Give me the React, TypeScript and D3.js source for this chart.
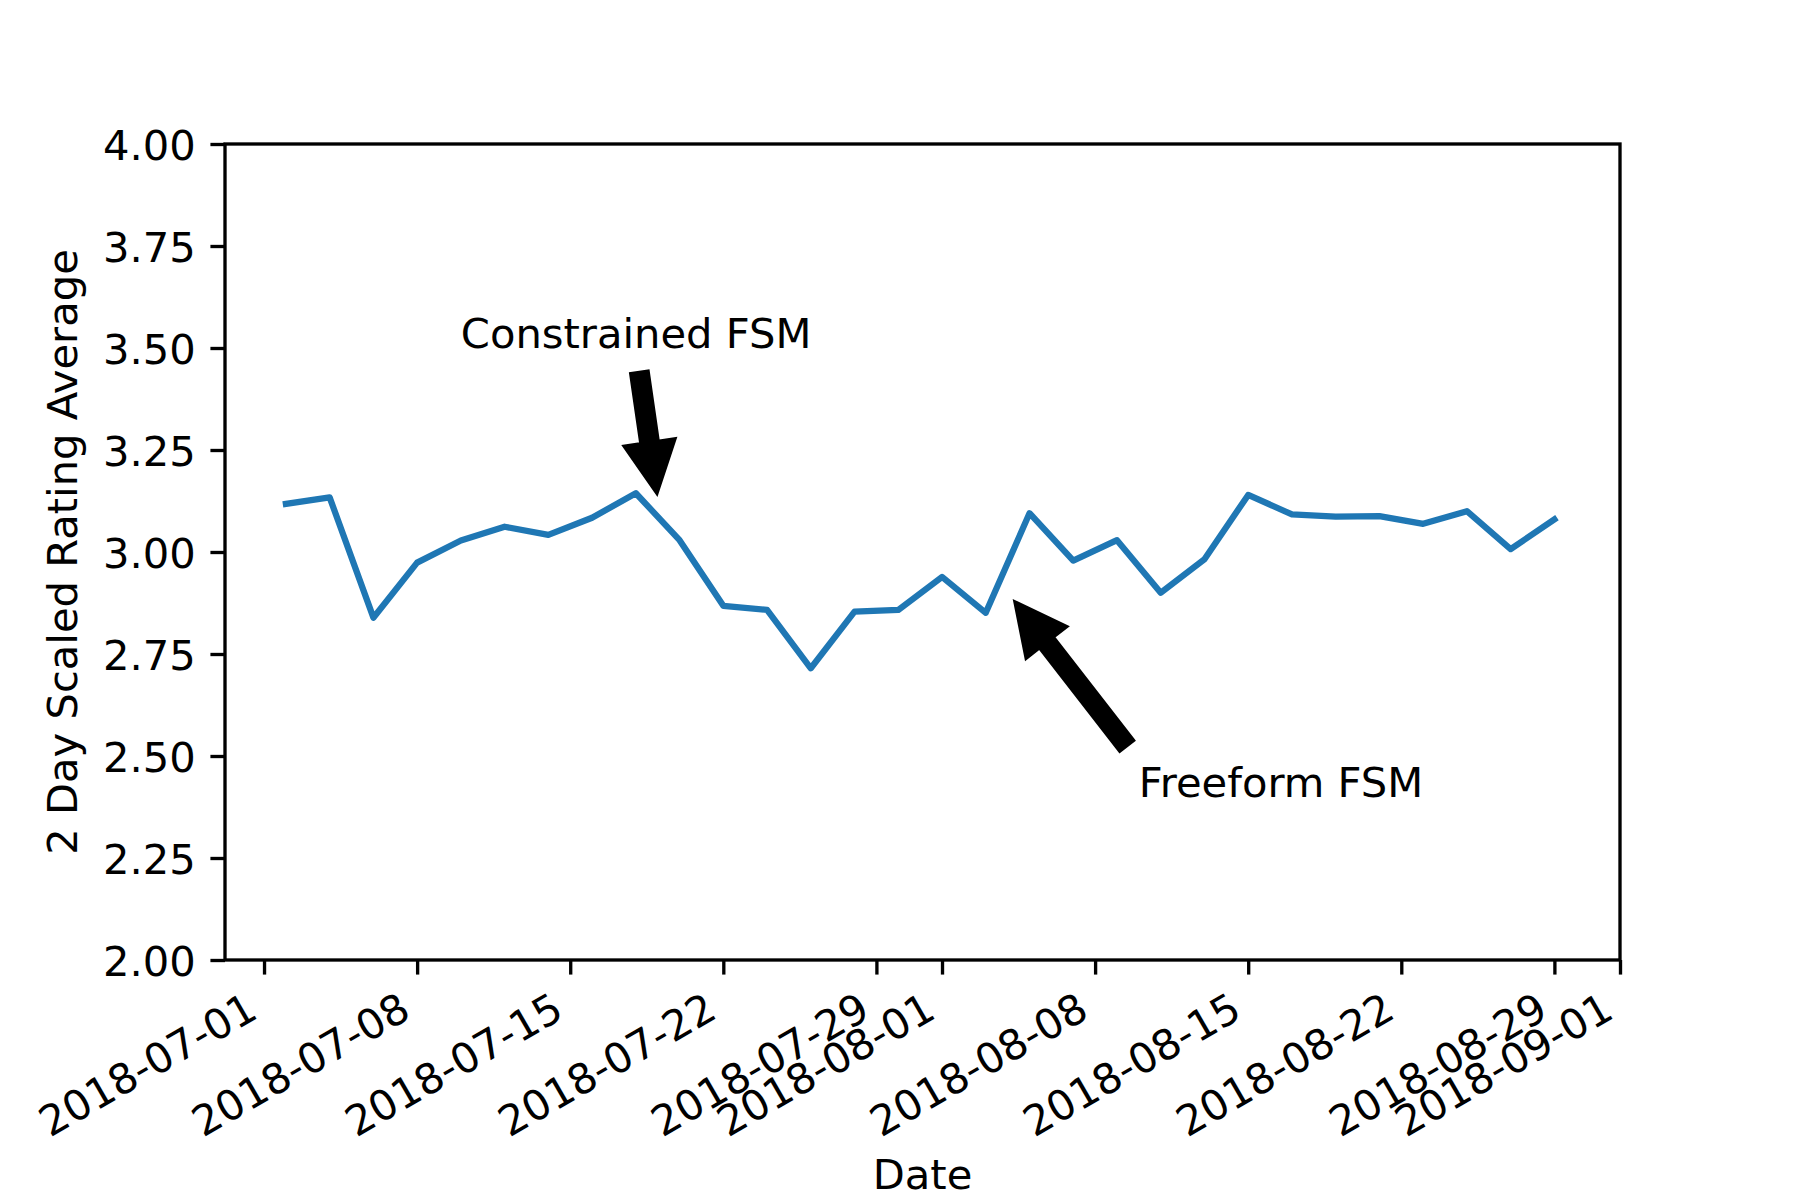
import React, { useEffect, useRef } from 'react'
import * as d3 from 'd3'

// 2-day averages, one point every second day
const dates = [
  '2018-07-02', '2018-07-04', '2018-07-06', '2018-07-08', '2018-07-10',
  '2018-07-12', '2018-07-14', '2018-07-16', '2018-07-18', '2018-07-20',
  '2018-07-22', '2018-07-24', '2018-07-26', '2018-07-28', '2018-07-30',
  '2018-08-01', '2018-08-03', '2018-08-05', '2018-08-07', '2018-08-09',
  '2018-08-11', '2018-08-13', '2018-08-15', '2018-08-17', '2018-08-19',
  '2018-08-21', '2018-08-23', '2018-08-25', '2018-08-27', '2018-08-29',
]
const ratings = [
  3.118, 3.134, 2.839, 2.974, 3.028, 3.062, 3.042, 3.084, 3.144, 3.029,
  2.868, 2.858, 2.715, 2.854, 2.858, 2.939, 2.851, 3.095, 2.979, 3.029,
  2.900, 2.982, 3.140, 3.092, 3.087, 3.088, 3.069, 3.100, 3.007, 3.080,
]

const xTickLabels = [
  '2018-07-01', '2018-07-08', '2018-07-15', '2018-07-22', '2018-07-29',
  '2018-08-01', '2018-08-08', '2018-08-15', '2018-08-22', '2018-08-29', '2018-09-01',
]
const yTicks = [2.0, 2.25, 2.5, 2.75, 3.0, 3.25, 3.5, 3.75, 4.0]

// annotations: text anchor, arrow tail and arrow tip (data coordinates)
const annotationLabels = ['Constrained FSM', 'Freeform FSM']
const annotationText = [['2018-07-10', 3.5], ['2018-08-10', 2.4]]
const arrowTail = [['2018-07-18T04:00Z', 3.439], ['2018-08-09T10:20Z', 2.526]]
const arrowTip = [['2018-07-18T23:00Z', 3.146], ['2018-08-04T08:40Z', 2.876]]

const W = 1800
const H = 1200
const left = 225, right = 1620, top = 144, bottom = 960
const FONT = '"DejaVu Sans", sans-serif'
const FS = 41.67
const TICK = 14.58
const PAD = 14.58

const parse = (s: string) => new Date(s.length === 10 ? s + 'T00:00:00Z' : s)

export default function App() {
  const xAxisRef = useRef<SVGGElement>(null)
  const yAxisRef = useRef<SVGGElement>(null)

  const x = d3.scaleUtc()
    .domain([new Date(Date.UTC(2018, 5, 29, 5, 10)), new Date(Date.UTC(2018, 8, 1))])
    .range([left, right])
  const y = d3.scaleLinear().domain([2, 4]).range([bottom, top])

  const points = dates.map((d, i) => ({ date: parse(d), value: ratings[i] }))

  const line = d3.line<typeof points[0]>()
    .x(d => x(d.date))
    .y(d => y(d.value))

  useEffect(() => {
    if (!xAxisRef.current || !yAxisRef.current) return

    const gx = d3.select(xAxisRef.current)
    gx.selectAll('*').remove()
    gx.call(
      d3.axisBottom(x)
        .tickValues(xTickLabels.map(parse))
        .tickFormat(d => d3.utcFormat('%Y-%m-%d')(d as Date))
        .tickSize(TICK)
        .tickSizeOuter(0)
    )
    gx.attr('font-family', FONT).attr('font-size', FS)
    gx.select('.domain').remove()
    gx.selectAll('line').attr('stroke', '#000').attr('stroke-width', 3.33)
    gx.selectAll('text')
      .attr('fill', '#000')
      .attr('text-anchor', 'end')
      .attr('y', null)
      .attr('dy', null)
      .attr('transform', `translate(-4.9, ${TICK + PAD + 27.5}) rotate(-30)`)

    const gy = d3.select(yAxisRef.current)
    gy.selectAll('*').remove()
    gy.call(
      d3.axisLeft(y)
        .tickValues(yTicks)
        .tickFormat(d3.format('.2f'))
        .tickSize(TICK)
        .tickSizeOuter(0)
        .tickPadding(PAD)
    )
    gy.attr('font-family', FONT).attr('font-size', FS)
    gy.select('.domain').remove()
    gy.selectAll('line').attr('stroke', '#000').attr('stroke-width', 3.33)
    gy.selectAll('text').attr('fill', '#000').attr('dy', '0.365em')
  }, [])

  // arrow polygon like matplotlib's default annotate arrow
  const arrowPath = (i: number) => {
    const sx = x(parse(arrowTail[i][0] as string)), sy = y(arrowTail[i][1] as number)
    const tx = x(parse(arrowTip[i][0] as string)), ty = y(arrowTip[i][1] as number)
    const len = Math.hypot(tx - sx, ty - sy)
    const ux = (tx - sx) / len, uy = (ty - sy) / len
    const nx = -uy, ny = ux
    const w = 16.67 / 2, hw = 50 / 2, hl = 50
    const bx = tx - ux * hl, by = ty - uy * hl
    const pts = [
      [sx + nx * w, sy + ny * w],
      [bx + nx * w, by + ny * w],
      [bx + nx * hw, by + ny * hw],
      [tx, ty],
      [bx - nx * hw, by - ny * hw],
      [bx - nx * w, by - ny * w],
      [sx - nx * w, sy - ny * w],
    ]
    return 'M' + pts.map(p => p.join(',')).join('L') + 'Z'
  }

  return (
    <div style={{ position: 'fixed', left: 0, top: 0, background: '#fff' }}>
      <svg width={W} height={H} viewBox={`0 0 ${W} ${H}`} style={{ display: 'block' }}>
        <rect x={0} y={0} width={W} height={H} fill="#fff" />

        <path
          d={line(points) || ''}
          fill="none"
          stroke="#1f77b4"
          strokeWidth={6.25}
          strokeLinejoin="round"
          strokeLinecap="square"
        />

        <rect
          x={left}
          y={top}
          width={right - left}
          height={bottom - top}
          fill="none"
          stroke="#000"
          strokeWidth={3.33}
          strokeLinecap="square"
        />

        <g ref={xAxisRef} transform={`translate(0,${bottom})`} />
        <g ref={yAxisRef} transform={`translate(${left},0)`} />

        <text
          x={(left + right) / 2}
          y={1189}
          textAnchor="middle"
          fontFamily={FONT}
          fontSize={FS}
          fill="#000"
        >
          Date
        </text>
        <text
          transform={`translate(77,${(top + bottom) / 2}) rotate(-90)`}
          textAnchor="middle"
          fontFamily={FONT}
          fontSize={FS}
          fill="#000"
        >
          2 Day Scaled Rating Average
        </text>

        {annotationLabels.map((label, i) => (
          <g key={label}>
            <path d={arrowPath(i)} fill="#000" stroke="#000" strokeWidth={4.17} strokeLinejoin="miter" />
            <text
              x={x(parse(annotationText[i][0] as string))}
              y={y(annotationText[i][1] as number)}
              fontFamily={FONT}
              fontSize={FS}
              fill="#000"
            >
              {label}
            </text>
          </g>
        ))}
      </svg>
    </div>
  )
}
